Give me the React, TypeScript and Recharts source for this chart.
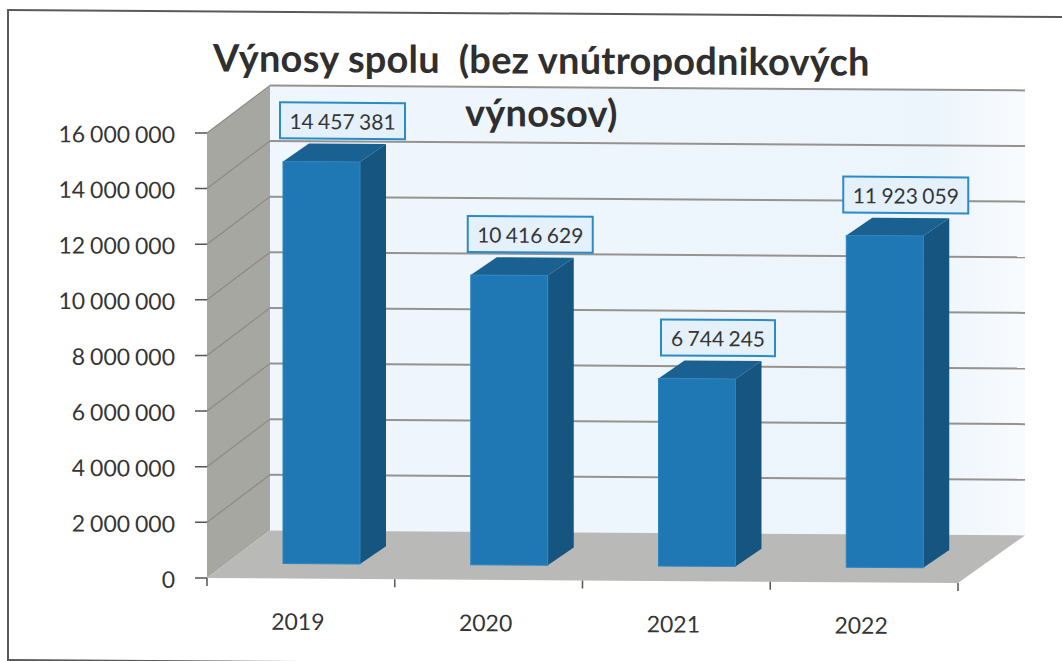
import React from 'react';
import { BarChart, Bar, XAxis, YAxis, LabelList, ReferenceArea } from 'recharts';

const years = ['2019', '2020', '2021', '2022'];
const revenues = [14457381, 10416629, 6744245, 11923059];
const yTicks = [0, 2000000, 4000000, 6000000, 8000000, 10000000, 12000000, 14000000, 16000000];
const titleLines = ['Výnosy spolu  (bez vnútropodnikových', 'výnosov)'];

const chartData = years.map((year, i) => ({ year, revenue: revenues[i] }));

const FONT = 'Lato, sans-serif';
const TEXT = '#353535';
// 3D look: how far the back wall and the bars sit behind the axis plane
const WALL_DX = 63;
const WALL_DY = 48;
const WALL_EXTRA = 4;
const BAR_SHIFT_X = 21;
const BAR_SHIFT_Y = 15;
const BAR_DX = 26;
const BAR_DY = 18;

const formatNumber = (v: number) => String(v).replace(/\B(?=(\d{3})+$)/g, ' ');

// Side wall, back wall, floor, gridlines and the category ticks
const Walls = ({ x, y, width, height }: any) => {
  const right = x + width;
  const bottom = y + height;
  const backRight = right + WALL_DX + WALL_EXTRA;
  return (
    <g>
      <rect x={x + WALL_DX} y={y - WALL_DY} width={width + WALL_EXTRA} height={height} fill="url(#wallFill)" />
      <polygon
        points={`${x},${y} ${x + WALL_DX},${y - WALL_DY} ${x + WALL_DX},${bottom - WALL_DY} ${x},${bottom}`}
        fill="#a6a7a0"
      />
      <polygon
        points={`${x},${bottom} ${right},${bottom} ${backRight},${bottom - WALL_DY} ${x + WALL_DX},${bottom - WALL_DY}`}
        fill="#b9b9b7"
      />
      {yTicks.map((t) => {
        const ly = bottom - (height * t) / 16000000;
        if (t === 0) return null;
        return (
          <g key={t}>
            <line x1={x} y1={ly} x2={x + WALL_DX} y2={ly - WALL_DY} stroke="#8f8a80" strokeWidth={1.2} />
            <line x1={x + WALL_DX} y1={ly - WALL_DY} x2={backRight} y2={ly - WALL_DY} stroke="#96938e" strokeWidth={2} />
          </g>
        );
      })}
      {[0, 1, 2, 3, 4].map((i) => {
        const tx = x + (width * i) / 4;
        return <line key={i} x1={tx} y1={bottom} x2={tx} y2={bottom + 8} stroke="#555" strokeWidth={1.5} />;
      })}
    </g>
  );
};

const Bar3D = ({ x, y, width, height }: any) => {
  const fx = x + BAR_SHIFT_X;
  const fy = y - BAR_SHIFT_Y;
  const fr = fx + width;
  const fb = fy + height;
  return (
    <g>
      <polygon
        points={`${fx},${fy} ${fx + BAR_DX},${fy - BAR_DY} ${fr + BAR_DX},${fy - BAR_DY} ${fr},${fy}`}
        fill="#1a6191"
      />
      <polygon
        points={`${fr},${fy} ${fr + BAR_DX},${fy - BAR_DY} ${fr + BAR_DX},${fb - BAR_DY} ${fr},${fb}`}
        fill="#15557f"
      />
      <rect x={fx} y={fy} width={width} height={height} fill="#1f77b4" stroke="#2c86c0" strokeWidth={1} />
    </g>
  );
};

const ValueLabel = ({ x, y, width, value }: any) => {
  const w = value >= 10000000 ? 125 : 114;
  const h = 36;
  const cx = x + width / 2 + BAR_SHIFT_X + 21;
  const cy = y - BAR_SHIFT_Y - 41;
  return (
    <g>
      <rect x={cx - w / 2} y={cy - h / 2} width={w} height={h} fill="#e4f0fa" stroke="#2b8bc6" strokeWidth={2} />
      <text
        x={cx}
        y={cy}
        textAnchor="middle"
        dominantBaseline="central"
        fontFamily={FONT}
        fontSize={21}
        fill={TEXT}
        style={{ wordSpacing: -1 }}
      >
        {formatNumber(value)}
      </text>
    </g>
  );
};

export default function App() {
  return (
    <div style={{ position: 'fixed', inset: 0, overflow: 'hidden', background: '#fff' }}>
      <div
        style={{
          position: 'absolute',
          left: 0,
          top: 0,
          width: 1062,
          height: 661,
          transform: 'skewY(0.38deg)',
          transformOrigin: '0 0',
        }}
      >
        <div
          style={{
            position: 'absolute',
            left: 7,
            top: 9,
            width: 1100,
            height: 648,
            border: '2px solid #5a5a5a',
            boxSizing: 'content-box',
          }}
        />
        <svg width={0} height={0} style={{ position: 'absolute' }}>
          <defs>
            <linearGradient id="wallFill" x1="0" y1="0" x2="1" y2="0">
              <stop offset="0" stopColor="#eff6fd" />
              <stop offset="0.88" stopColor="#edf5fc" />
              <stop offset="1" stopColor="#f8fbfe" />
            </linearGradient>
          </defs>
        </svg>
        <div style={{ position: 'absolute', left: 0, top: 0 }}>
          <BarChart
            width={1062}
            height={661}
            data={chartData}
            margin={{ top: 131.6, right: 104, bottom: 0, left: 0 }}
          >
            <XAxis
              dataKey="year"
              height={84.4}
              axisLine={false}
              tickLine={false}
              tickMargin={29}
              tick={{ fontFamily: FONT, fontSize: 23, fill: TEXT, dx: -3 }}
            />
            <YAxis
              type="number"
              width={207}
              domain={[0, 16000000]}
              ticks={yTicks}
              interval={0}
              axisLine={false}
              tickSize={12}
              tickMargin={20}
              tickLine={{ stroke: '#555', strokeWidth: 1.5 }}
              tickFormatter={formatNumber}
              tick={{ fontFamily: FONT, fontSize: 23, fill: TEXT, dy: 2, style: { wordSpacing: -1 } }}
            />
            <ReferenceArea y1={0} y2={16000000} ifOverflow="visible" shape={Walls} zIndex={-1} />
            <Bar dataKey="revenue" barSize={77} shape={Bar3D} isAnimationActive={false}>
              <LabelList dataKey="revenue" content={ValueLabel} />
            </Bar>
          </BarChart>
        </div>
        {titleLines.map((line, i) => (
          <div
            key={line}
            style={{
              position: 'absolute',
              left: i === 0 ? 213 : 465,
              top: i === 0 ? 33 : 86,
              fontFamily: FONT,
              fontWeight: 700,
              fontSize: 38,
              letterSpacing: 0.2,
              lineHeight: '44px',
              color: '#2f2f2f',
              whiteSpace: 'pre',
            }}
          >
            {line}
          </div>
        ))}
      </div>
    </div>
  );
}
